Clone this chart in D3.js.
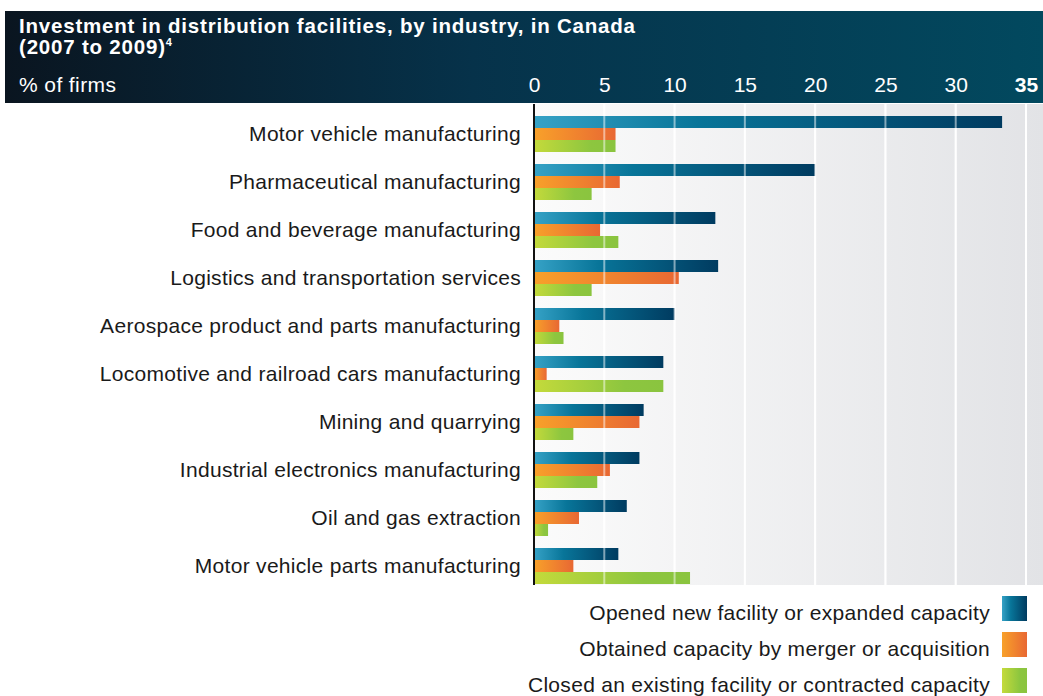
<!DOCTYPE html>
<html>
<head>
<meta charset="utf-8">
<script src="https://cdn.jsdelivr.net/npm/d3@7"></script>
<style>
  body { margin: 0; background: #fff; }
  text { font-family: "Liberation Sans", Arial, sans-serif; }
</style>
</head>
<body>
<svg id="chart" width="1043" height="696"></svg>
<script>
let WIDTH = 1043;
let HEIGHT = 696;

// industries, top to bottom
let industries = [
  'Motor vehicle manufacturing',
  'Pharmaceutical manufacturing',
  'Food and beverage manufacturing',
  'Logistics and transportation services',
  'Aerospace product and parts manufacturing',
  'Locomotive and railroad cars manufacturing',
  'Mining and quarrying',
  'Industrial electronics manufacturing',
  'Oil and gas extraction',
  'Motor vehicle parts manufacturing'
];

let seriesNames = [
  'Opened new facility or expanded capacity',
  'Obtained capacity by merger or acquisition',
  'Closed an existing facility or contracted capacity'
];

// % of firms
let opened   = [33.3, 20.0, 12.9, 13.1, 10.0, 9.2, 7.8, 7.5, 6.6, 6.0];
let obtained = [5.8, 6.1, 4.7, 10.3, 1.8, 0.9, 7.5, 5.4, 3.2, 2.8];
let closed   = [5.8, 4.1, 6.0, 4.1, 2.1, 9.2, 2.8, 4.5, 1.0, 11.1];

let tickValues = [0, 5, 10, 15, 20, 25, 30, 35];

let svg = d3.select('#chart');
let defs = svg.append('defs');

// gradients
let addGrad = function (id, stops) {
  let g = defs.append('linearGradient').attr('id', id)
    .attr('x1', '0%').attr('x2', '100%').attr('y1', '0%').attr('y2', '0%');
  stops.forEach(function (s) {
    g.append('stop').attr('offset', s[0]).attr('stop-color', s[1]);
  });
};
addGrad('hdr', [['0%', '#0a1520'], ['45%', '#06324a'], ['100%', '#02495f']]);
addGrad('plotbg', [['0%', '#fbfbfb'], ['100%', '#e2e3e6']]);
addGrad('g0', [['0%', '#36a2c6'], ['35%', '#087599'], ['100%', '#003b60']]);
addGrad('g1', [['0%', '#f8a12a'], ['100%', '#e86833']]);
addGrad('g2', [['0%', '#c4da3b'], ['70%', '#8dc63f'], ['100%', '#8ac43f']]);

let x = d3.scaleLinear().domain([0, 35]).range([534, 1026]);
let y = d3.scaleBand().domain(industries).range([110, 590])
  .paddingInner(0.25).paddingOuter(0.125);
let ySub = d3.scaleBand().domain(d3.range(3)).range([0, y.bandwidth()]);

// header band
svg.append('rect')
  .attr('x', 5).attr('y', 11).attr('width', WIDTH - 5).attr('height', 92)
  .attr('fill', 'url(#hdr)');

svg.append('text')
  .attr('x', 19).attr('y', 33)
  .attr('fill', '#fff').attr('font-weight', 'bold').attr('font-size', 20.5)
  .attr('letter-spacing', 0.8)
  .text('Investment in distribution facilities, by industry, in Canada');
let t2 = svg.append('text')
  .attr('x', 19).attr('y', 54)
  .attr('fill', '#fff').attr('font-weight', 'bold').attr('font-size', 20.5)
  .attr('letter-spacing', 0.8);
t2.append('tspan').text('(2007 to 2009)');
t2.append('tspan').attr('font-size', 11).attr('dy', -8).attr('letter-spacing', 0).text('4');

svg.append('text')
  .attr('x', 19).attr('y', 92)
  .attr('fill', '#fff').attr('font-size', 21).attr('letter-spacing', 0.4)
  .text('% of firms');

// plot background
svg.append('rect')
  .attr('x', 534).attr('y', 104).attr('width', WIDTH - 534).attr('height', 481)
  .attr('fill', 'url(#plotbg)');

// gridlines under bars
svg.append('g').selectAll('line')
  .data(tickValues.slice(1))
  .enter().append('line')
  .attr('x1', d => x(d)).attr('x2', d => x(d))
  .attr('y1', 104).attr('y2', 585)
  .attr('stroke', '#fff').attr('stroke-width', 2);

// bars
let table = industries.map(function (name, i) {
  return { name: name, values: [opened[i], obtained[i], closed[i]] };
});

let groups = svg.append('g').selectAll('g')
  .data(table)
  .enter().append('g')
  .attr('transform', d => 'translate(0,' + y(d.name) + ')');

groups.selectAll('rect')
  .data(d => d.values)
  .enter().append('rect')
  .attr('x', x(0))
  .attr('y', (d, i) => ySub(i))
  .attr('width', d => x(d) - x(0))
  .attr('height', ySub.bandwidth())
  .attr('fill', (d, i) => 'url(#g' + i + ')');

// gridlines over bars (faint)
svg.append('g').selectAll('line')
  .data(tickValues.slice(1))
  .enter().append('line')
  .attr('x1', d => x(d)).attr('x2', d => x(d))
  .attr('y1', 104).attr('y2', 585)
  .attr('stroke', '#fff').attr('stroke-opacity', 0.5).attr('stroke-width', 2);

// zero axis line
svg.append('line')
  .attr('x1', x(0)).attr('x2', x(0)).attr('y1', 104).attr('y2', 585)
  .attr('stroke', '#111').attr('stroke-width', 2);

// category labels
svg.append('g').selectAll('text')
  .data(industries)
  .enter().append('text')
  .attr('x', 521)
  .attr('y', d => y(d) + y.bandwidth() / 2)
  .attr('dy', '0.35em')
  .attr('text-anchor', 'end')
  .attr('font-size', 21)
  .attr('letter-spacing', 0.3)
  .attr('fill', '#1a1a1a')
  .text(d => d);

// top axis inside header
let topAxis = d3.axisTop(x).tickValues(tickValues).tickSize(0).tickPadding(0);
let ax = svg.append('g')
  .attr('transform', 'translate(0,92)')
  .call(topAxis);
ax.select('.domain').remove();
ax.selectAll('text')
  .attr('fill', '#fff')
  .attr('font-size', 21)
  .attr('font-family', '"Liberation Sans", Arial, sans-serif')
  .attr('font-weight', d => d === 35 ? 'bold' : 'normal');

// legend
let legend = svg.append('g').selectAll('g')
  .data(seriesNames)
  .enter().append('g')
  .attr('transform', (d, i) => 'translate(0,' + (596 + i * 36) + ')');
legend.append('rect')
  .attr('x', 1002).attr('y', 0).attr('width', 25).attr('height', 25)
  .attr('fill', (d, i) => 'url(#g' + i + ')');
legend.append('text')
  .attr('x', 990).attr('y', 24)
  .attr('text-anchor', 'end')
  .attr('font-size', 21)
  .attr('letter-spacing', 0.3)
  .attr('fill', '#1a1a1a')
  .text(d => d);
</script>
</body>
</html>
